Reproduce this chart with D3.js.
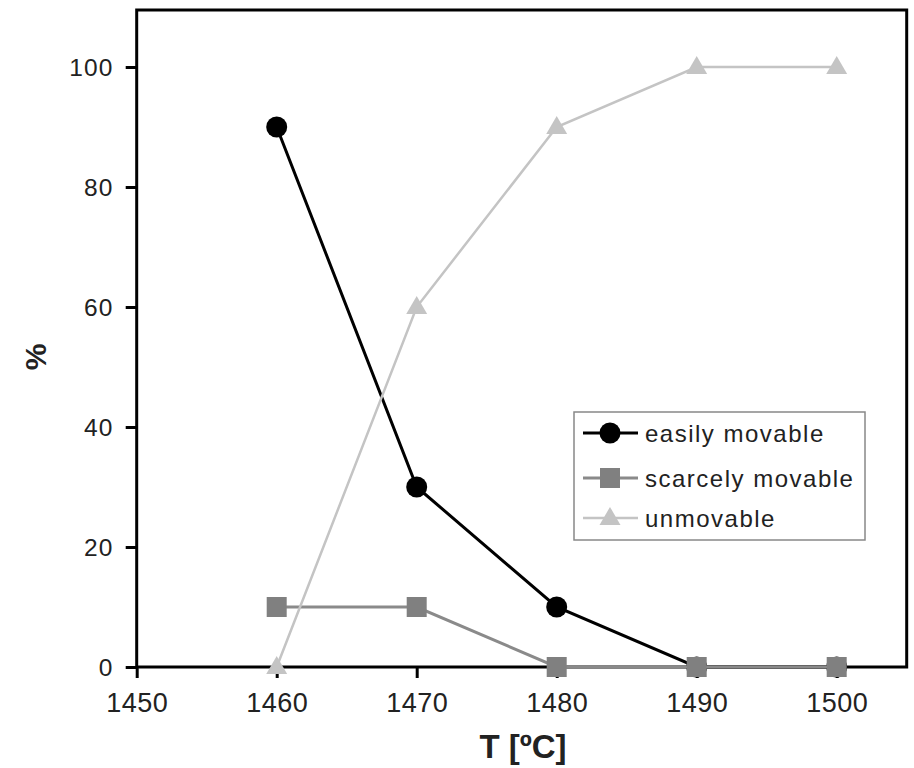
<!DOCTYPE html>
<html><head><meta charset="utf-8">
<script src="https://cdn.jsdelivr.net/npm/d3@7"></script>
<style>body{margin:0;background:#fff}svg{display:block}</style>
</head><body>
<script>
const temps = [1460, 1470, 1480, 1490, 1500];
const easily = [90, 30, 10, 0, 0];
const scarcely = [10, 10, 0, 0, 0];
const unmovable = [0, 60, 90, 100, 100];
const xTicks = [1450, 1460, 1470, 1480, 1490, 1500];
const yTicks = [0, 20, 40, 60, 80, 100];
const seriesNames = ["easily movable", "scarcely movable", "unmovable"];

const W = 914, H = 768;
const svg = d3.select("body").append("svg").attr("width", W).attr("height", H);
const L = 136.7, R = 906.7, T = 10, B = 667;
const x = d3.scaleLinear().domain([1450, 1505]).range([L, R]);
const y = d3.scaleLinear().domain([0, 109.5]).range([B, T]);
const font = "Liberation Sans, Arial, sans-serif";

// axes
const xa = svg.append("g").attr("transform", `translate(0,${B})`)
  .call(d3.axisBottom(x).tickValues(xTicks).tickSize(11).tickSizeOuter(0).tickFormat(d3.format("d")));
const ya = svg.append("g").attr("transform", `translate(${L},0)`)
  .call(d3.axisLeft(y).tickValues(yTicks).tickSize(11).tickPadding(12).tickSizeOuter(0));
[xa, ya].forEach(g => {
  g.select(".domain").remove();
  g.selectAll("line").attr("stroke", "#000").attr("stroke-width", 3);
  g.selectAll("text").attr("font-family", font).attr("fill", "#222");
});
xa.selectAll("text").attr("y", 45).attr("dy", 0).attr("font-size", 27).attr("letter-spacing", 0.5);
ya.selectAll("text").attr("font-size", 24.5).attr("letter-spacing", 1.2).attr("dy", "0.36em");

// frame
svg.append("rect").attr("x", L).attr("y", T).attr("width", R - L).attr("height", B - T)
  .attr("fill", "none").attr("stroke", "#000").attr("stroke-width", 3);

const series = [
  {name: seriesNames[0], vals: easily, color: "#000", mcolor: "#000", sw: 3, shape: "circle"},
  {name: seriesNames[1], vals: scarcely, color: "#8a8a8a", mcolor: "#808080", sw: 3, shape: "square"},
  {name: seriesNames[2], vals: unmovable, color: "#c4c4c4", mcolor: "#c4c4c4", sw: 2.5, shape: "triangle"}
];

function marker(g, shape, color, cx, cy) {
  if (shape === "circle") g.append("circle").attr("cx", cx).attr("cy", cy).attr("r", 10.5).attr("fill", color);
  else if (shape === "square") g.append("rect").attr("x", cx - 10).attr("y", cy - 10).attr("width", 20).attr("height", 20).attr("fill", color);
  else g.append("path").attr("d", d3.symbol().type(d3.symbolTriangle).size(190)()).attr("transform", `translate(${cx},${cy + 1})`).attr("fill", color);
}

const line = d3.line().x(d => x(d[0])).y(d => y(d[1]));
series.forEach(s => {
  const pts = temps.map((t, i) => [t, s.vals[i]]);
  const g = svg.append("g");
  g.append("path").attr("d", line(pts)).attr("fill", "none").attr("stroke", s.color).attr("stroke-width", s.sw);
  pts.forEach(p => marker(g, s.shape, s.mcolor, x(p[0]), y(p[1])));
});

// legend
const lg = svg.append("g");
lg.append("rect").attr("x", 574).attr("y", 412).attr("width", 291).attr("height", 128)
  .attr("fill", "#fff").attr("stroke", "#888").attr("stroke-width", 1.5);
const ly = [433, 478, 518];
series.forEach((s, i) => {
  lg.append("line").attr("x1", 583).attr("x2", 638).attr("y1", ly[i]).attr("y2", ly[i])
    .attr("stroke", s.color).attr("stroke-width", s.sw);
  marker(lg, s.shape, s.mcolor, 610, ly[i]);
  lg.append("text").attr("x", 645).attr("y", ly[i]).attr("dy", "0.36em")
    .attr("font-family", font).attr("font-size", 24).attr("letter-spacing", 1.5).attr("fill", "#222").text(s.name);
});

// axis titles
svg.append("text").attr("x", 523).attr("y", 758).attr("text-anchor", "middle")
  .attr("font-family", font).attr("font-size", 33).attr("font-weight", "bold").attr("fill", "#222").text("T [ºC]");
svg.append("text").attr("transform", "translate(46,357) rotate(-90)").attr("text-anchor", "middle")
  .attr("font-family", font).attr("font-size", 30).attr("font-weight", "bold").attr("fill", "#222").text("%");
</script>
</body></html>
